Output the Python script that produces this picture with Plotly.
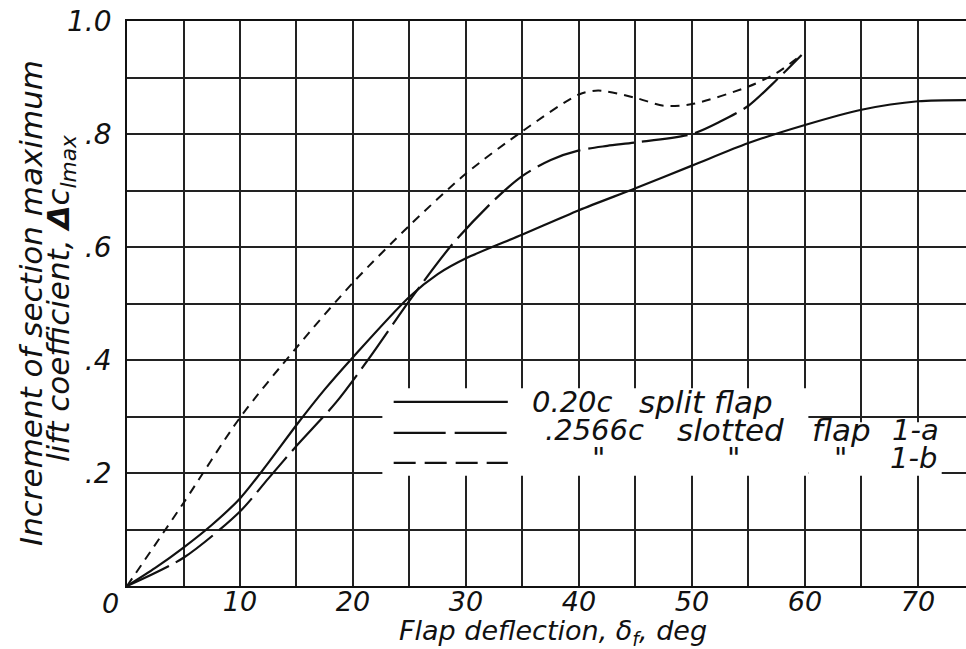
import plotly.graph_objects as go

# Flap deflection (deg) vs. increment of section maximum lift coefficient
split_defl = [0, 2.5, 5, 7.5, 10, 12.5, 15, 17.5, 20, 25, 27.5, 30, 35, 40, 45, 50,
              55, 60, 65, 70, 75]
split_dcl = [0, 0.032, 0.068, 0.108, 0.155, 0.218, 0.285, 0.348, 0.405, 0.512, 0.552,
             0.58, 0.622, 0.665, 0.704, 0.744, 0.784, 0.816, 0.843, 0.858, 0.86]

slot_a_defl = [0, 5, 10, 12.5, 15, 18.5, 21.5, 25, 28.8, 32.5, 35, 37.5, 40, 42.5,
               45, 50, 52.5, 55, 57.5, 59.7]
slot_a_dcl = [0, 0.05, 0.132, 0.19, 0.248, 0.325, 0.405, 0.505, 0.605, 0.683, 0.726,
              0.754, 0.771, 0.779, 0.785, 0.80, 0.822, 0.85, 0.896, 0.94]

slot_b_defl = [0, 5, 10, 15, 20, 25, 30, 35, 40, 41.7, 45, 47.5, 50, 55, 57.5, 59.7]
slot_b_dcl = [0, 0.147, 0.298, 0.422, 0.537, 0.638, 0.73, 0.805, 0.87, 0.877,
              0.864, 0.85, 0.853, 0.884, 0.908, 0.94]

# Axis ticks: grid every 5 deg / 0.1, labels every 10 deg / 0.2
x_ticks = list(range(0, 75, 5))
x_tick_text = ["" if v % 10 else str(v) for v in x_ticks]
x_tick_text[0] = ""
y_ticks = [i / 10 for i in range(11)]
y_tick_text = ["", "", ".2", "", ".4", "", ".6", "", ".8", "", "1.0"]

FONT = "DejaVu Sans"
INK = "#111111"

fig = go.Figure()

fig.add_trace(go.Scatter(x=split_defl, y=split_dcl, mode="lines",
                         line=dict(color=INK, width=2.2, shape="spline", smoothing=0.8),
                         showlegend=False))
fig.add_trace(go.Scatter(x=slot_a_defl, y=slot_a_dcl, mode="lines",
                         line=dict(color=INK, width=2.2, shape="spline", smoothing=0.8,
                                   dash="46px,8px"),
                         showlegend=False))
fig.add_trace(go.Scatter(x=slot_b_defl, y=slot_b_dcl, mode="lines",
                         line=dict(color=INK, width=2.0, shape="spline", smoothing=0.8,
                                   dash="9px,7px"),
                         showlegend=False))

# Key: blank out the grid behind it, then sample strokes and lettering
shapes = [
    dict(type="rect", xref="x", yref="y", x0=22.6, x1=60.3, y0=0.195, y1=0.35,
         fillcolor="white", line=dict(width=0), layer="above"),
    dict(type="rect", xref="x", yref="y", x0=60.3, x1=72.1, y0=0.195, y1=0.29,
         fillcolor="white", line=dict(width=0), layer="above"),
]
key_y = [0.326, 0.271, 0.218]
key_dash = ["solid", "52px,9px", "22px,9px"]
for ky, kd in zip(key_y, key_dash):
    shapes.append(dict(type="line", xref="x", yref="y", x0=23.6, x1=33.7, y0=ky, y1=ky,
                       line=dict(color=INK, width=2.2, dash=kd), layer="above"))

key_font = dict(family=FONT, size=29, color=INK, style="italic")
key_wide = dict(family=FONT, size=31, color=INK, style="italic")
key_text = [
    ("0.20c", 35.66, 0.3257, key_font), ("split flap", 45.13, 0.3257, key_wide),
    (".2566c", 36.81, 0.276, key_font), ("slotted", 48.5, 0.276, key_wide),
    ("flap", 60.44, 0.276, key_wide), ("1-a", 67.52, 0.276, key_font),
    ('"', 40.97, 0.2265, key_font), ('"', 52.92, 0.2265, key_font),
    ('"', 62.39, 0.2265, key_font), ("1-b", 67.35, 0.2265, key_font),
]
annotations = []
for txt, ax, ay, fnt in key_text:
    annotations.append(dict(text=txt, x=ax, y=ay, xref="x", yref="y",
                            xanchor="left", yanchor="middle", showarrow=False,
                            font=fnt))

# Origin label, set a little left of the axis
annotations.append(dict(text="0", x=-17 / 839, y=(586 - 603) / 565, xref="paper",
                        yref="paper", xanchor="center", yanchor="middle",
                        showarrow=False,
                        font=dict(family=FONT, size=27, color=INK, style="italic")))

# Axis titles
annotations.append(dict(text="Flap deflection, δ<sub>f</sub>, deg", x=(553 - 127) / 839,
                        y=(586 - 632) / 565, xref="paper", yref="paper",
                        xanchor="center", yanchor="middle", showarrow=False,
                        font=dict(family=FONT, size=27, color=INK, style="italic")))
annotations.append(dict(text="Increment of section maximum", x=(31 - 127) / 839,
                        y=(586 - 303) / 565, xref="paper", yref="paper", textangle=-90,
                        xanchor="center", yanchor="middle", showarrow=False,
                        font=dict(family=FONT, size=31, color=INK, style="italic")))
annotations.append(dict(text="lift coefficient, <b>Δ</b>c<sub>lmax</sub>",
                        x=(60 - 127) / 839, y=(586 - 298) / 565,
                        xref="paper", yref="paper", textangle=-90,
                        xanchor="center", yanchor="middle", showarrow=False,
                        font=dict(family=FONT, size=31, color=INK, style="italic")))

fig.update_layout(
    width=966, height=649,
    margin=dict(l=127, r=0, t=21, b=63),
    paper_bgcolor="white", plot_bgcolor="white",
    shapes=shapes, annotations=annotations,
    showlegend=False,
)
fig.update_xaxes(range=[0, 74.25], tickvals=x_ticks, ticktext=x_tick_text,
                 showgrid=True, gridcolor="#222222", gridwidth=1.6,
                 showline=True, mirror=True, linecolor=INK, linewidth=1.8,
                 zeroline=False, ticks="", ticklabelstandoff=-9,
                 tickfont=dict(family=FONT, size=27, color=INK, style="italic"))
fig.update_yaxes(range=[0, 1.0], tickvals=y_ticks, ticktext=y_tick_text,
                 showgrid=True, gridcolor="#222222", gridwidth=1.6,
                 showline=True, mirror=False, linecolor=INK, linewidth=1.8,
                 zeroline=False, ticks="", ticklabelstandoff=8,
                 tickfont=dict(family=FONT, size=28, color=INK, style="italic"))

fig.write_html("out.html")
